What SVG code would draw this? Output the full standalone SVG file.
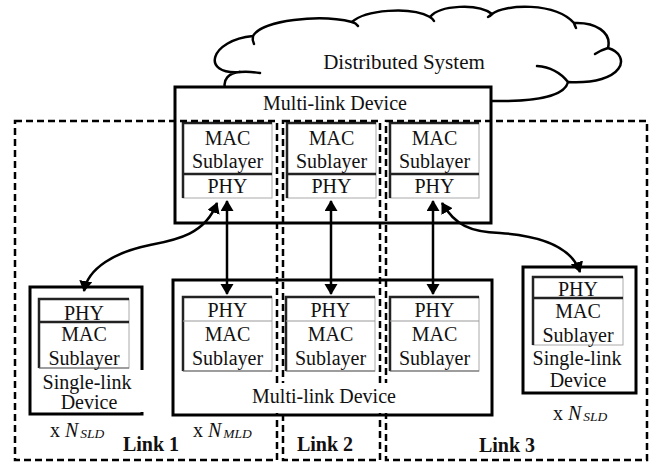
<svg xmlns="http://www.w3.org/2000/svg" width="656" height="462" viewBox="0 0 656 462">
  <style>
    text { font-family: "Liberation Serif", "Times New Roman", serif; font-size: 20px; fill: #111; }
    .c { text-anchor: middle; }
    .bold { font-weight: bold; }
    .it { font-style: italic; }
    .sub { font-style: italic; font-size: 13.5px; }
    .box { fill: #fff; stroke: #000; stroke-width: 3; }
    .cell { fill: #fff; stroke: #aaa; stroke-width: 1; }
    .edge { fill: none; stroke: #222; stroke-width: 2.5; }
    .div-dark { stroke: #222; stroke-width: 2.5; }
    .div-light { stroke: #999; stroke-width: 1; }
    .div-mid { stroke: #666; stroke-width: 1.2; }
    .link { fill: none; stroke: #000; stroke-width: 2.5; stroke-dasharray: 7 4; }
    .cloud { fill: #fff; stroke: #000; stroke-width: 2.5; stroke-linejoin: round; }
    .tail { fill: none; stroke: #000; stroke-width: 2.5; stroke-linecap: round; }
    .wire { fill: none; stroke: #000; stroke-width: 2.5; }
    .mask { fill: #fff; stroke: none; }
  </style>
  <defs>
    <marker id="head" markerUnits="userSpaceOnUse" markerWidth="14" markerHeight="14" refX="10" refY="6.5" orient="auto-start-reverse">
      <path d="M0,0 L11,6.5 L0,13 z" fill="#000"/>
    </marker>
  </defs>

  <!-- cloud: Distributed System -->
  <g id="distributed-system">
    <path class="cloud" d="M225,88 C223,80 228,73 240,72 C200,75 210,40 253,36 C262,20 320,14 352,22 C365,10 410,6 430,17 C440,5 478,3 492,14 C505,4 555,2 574,23 C595,22 612,32 608,48 C632,55 625,85 568,82 C565,95 540,102 492,101 L226,101 Z"/>
    <path class="tail" d="M240,72 C247,71 254,72 260,73"/>
    <path class="tail" d="M253,36 Q252,40 254,44"/>
    <path class="tail" d="M352,22 Q356,23 358,26"/>
    <path class="tail" d="M430,17 Q433,19 434,21"/>
    <path class="tail" d="M492,14 Q490,16 488,17"/>
    <path class="tail" d="M574,23 Q575,26 576,28"/>
    <path class="tail" d="M608,48 Q601,50 595,54"/>
    <path class="tail" d="M568,82 C560,72 550,67 537,66"/>
    <text class="c" x="404" y="69" style="font-size:21px">Distributed System</text>
  </g>

  <!-- upper multi-link device -->
  <g id="mld-top">
    <rect class="box" x="175" y="87" width="316" height="136"/>
    <text class="c" x="335" y="110">Multi-link Device</text>
    <g id="mld-top-stack-1">
      <rect class="cell" x="183" y="123" width="89" height="75"/>
      <path class="edge" d="M183,198 V123 H272"/>
      <line class="div-dark" x1="183" y1="174" x2="272" y2="174"/>
      <text class="c" x="227.5" y="145">MAC</text>
      <text class="c" x="227.5" y="168">Sublayer</text>
      <text class="c" x="227.5" y="193">PHY</text>
    </g>
    <g id="mld-top-stack-2">
      <rect class="cell" x="287" y="123" width="89" height="75"/>
      <path class="edge" d="M287,198 V123 H376"/>
      <line class="div-dark" x1="287" y1="174" x2="376" y2="174"/>
      <text class="c" x="331.5" y="145">MAC</text>
      <text class="c" x="331.5" y="168">Sublayer</text>
      <text class="c" x="331.5" y="193">PHY</text>
    </g>
    <g id="mld-top-stack-3">
      <rect class="cell" x="390" y="123" width="89" height="75"/>
      <path class="edge" d="M390,198 V123 H479"/>
      <line class="div-dark" x1="390" y1="174" x2="479" y2="174"/>
      <text class="c" x="434.5" y="145">MAC</text>
      <text class="c" x="434.5" y="168">Sublayer</text>
      <text class="c" x="434.5" y="193">PHY</text>
    </g>
  </g>

  <!-- lower multi-link device -->
  <g id="mld-bottom">
    <rect class="box" x="173" y="280" width="319" height="135"/>
    <g id="mld-bottom-stack-1">
      <rect class="cell" x="183" y="297" width="89" height="74"/>
      <path class="edge" d="M183,371 V297 H272"/>
      <line class="div-light" x1="183" y1="321" x2="272" y2="321"/>
      <line class="div-mid" x1="183" y1="371" x2="272" y2="371"/>
      <text class="c" x="227.5" y="317">PHY</text>
      <text class="c" x="227.5" y="341">MAC</text>
      <text class="c" x="227.5" y="365">Sublayer</text>
    </g>
    <g id="mld-bottom-stack-2">
      <rect class="cell" x="286" y="297" width="89" height="74"/>
      <path class="edge" d="M286,371 V297 H375"/>
      <line class="div-light" x1="286" y1="321" x2="375" y2="321"/>
      <line class="div-mid" x1="286" y1="371" x2="375" y2="371"/>
      <text class="c" x="330.5" y="317">PHY</text>
      <text class="c" x="330.5" y="341">MAC</text>
      <text class="c" x="330.5" y="365">Sublayer</text>
    </g>
    <g id="mld-bottom-stack-3">
      <rect class="cell" x="390" y="297" width="89" height="74"/>
      <path class="edge" d="M390,371 V297 H479"/>
      <line class="div-light" x1="390" y1="321" x2="479" y2="321"/>
      <line class="div-mid" x1="390" y1="371" x2="479" y2="371"/>
      <text class="c" x="434.5" y="317">PHY</text>
      <text class="c" x="434.5" y="341">MAC</text>
      <text class="c" x="434.5" y="365">Sublayer</text>
    </g>
  </g>

  <!-- left single-link device -->
  <g id="sld-left">
    <rect class="box" x="30" y="287" width="112" height="127"/>
    <rect class="cell" x="39" y="299" width="90" height="69"/>
    <path class="edge" d="M39,368 V299 H129"/>
    <line class="div-dark" x1="39" y1="322" x2="129" y2="322"/>
    <line class="div-mid" x1="39" y1="368" x2="129" y2="368"/>
    <text class="c" x="84" y="320">PHY</text>
    <text class="c" x="84" y="341">MAC</text>
    <text class="c" x="84" y="365">Sublayer</text>
    <rect class="mask" x="44" y="370" width="101" height="42"/>
    <text class="c" x="87" y="389">Single-link</text>
    <text class="c" x="89" y="409">Device</text>
  </g>

  <!-- right single-link device -->
  <g id="sld-right">
    <rect class="box" x="523" y="267" width="113" height="126"/>
    <rect class="cell" x="533" y="277" width="90" height="68"/>
    <path class="edge" d="M533,345 V277 H623"/>
    <line class="div-dark" x1="533" y1="298" x2="623" y2="298"/>
    <text class="c" x="578" y="296">PHY</text>
    <text class="c" x="578" y="318">MAC</text>
    <text class="c" x="578" y="342">Sublayer</text>
    <text class="c" x="577" y="365">Single-link</text>
    <text class="c" x="578" y="387">Device</text>
  </g>

  <!-- link regions -->
  <g id="links">
    <rect class="link" x="15" y="121" width="262" height="339"/>
    <rect class="link" x="283" y="121" width="97" height="339"/>
    <rect class="link" x="386" y="121" width="261" height="339"/>
    <text class="c bold" x="151" y="451">Link 1</text>
    <text class="c bold" x="325" y="451">Link 2</text>
    <text class="c bold" x="507" y="452">Link 3</text>
  </g>

  <!-- label of the lower multi-link device sits over the link borders -->
  <g id="mld-bottom-label">
    <rect class="mask" x="246" y="383" width="158" height="30"/>
    <text class="c" x="324" y="403">Multi-link Device</text>
  </g>

  <!-- device counts -->
  <g id="counts">
    <text x="50" y="437">x <tspan class="it">N</tspan><tspan class="sub" dx="2" dy="1">SLD</tspan></text>
    <text x="193" y="437">x <tspan class="it">N</tspan><tspan class="sub" dx="2" dy="1">MLD</tspan></text>
    <text x="553" y="420">x <tspan class="it">N</tspan><tspan class="sub" dx="2" dy="1">SLD</tspan></text>
  </g>

  <!-- connectors -->
  <g id="connectors">
    <line class="wire" x1="227" y1="201" x2="227" y2="294" marker-start="url(#head)" marker-end="url(#head)"/>
    <line class="wire" x1="331" y1="201" x2="331" y2="294" marker-start="url(#head)" marker-end="url(#head)"/>
    <line class="wire" x1="433" y1="201" x2="433" y2="294" marker-start="url(#head)" marker-end="url(#head)"/>
    <path class="wire" d="M217,203 C205,235 175,240 150,245 C115,252 88,268 84,291" marker-start="url(#head)" marker-end="url(#head)"/>
    <path class="wire" d="M442,203 C455,225 470,232 500,233 C545,236 572,248 580,272" marker-start="url(#head)" marker-end="url(#head)"/>
  </g>
</svg>
